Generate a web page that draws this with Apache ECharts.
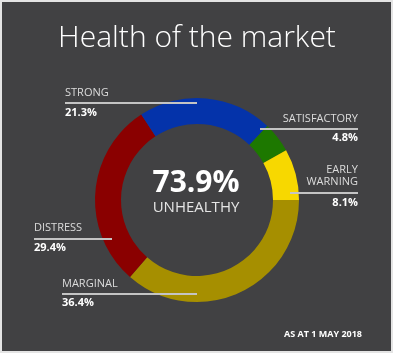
<!DOCTYPE html>
<html>
<head>
<meta charset="utf-8">
<script src="https://cdn.jsdelivr.net/npm/echarts@6/dist/echarts.min.js"></script>
<style>
html,body{margin:0;padding:0;background:#ffffff;}
#main{width:393px;height:353px;}
</style>
</head>
<body>
<div id="main"></div>
<script>
const titleText = 'Health of the market';
const categories = ['MARGINAL', 'DISTRESS', 'STRONG', 'SATISFACTORY', 'EARLY WARNING'];
const values = [36.4, 29.4, 21.3, 4.8, 8.1];
const unhealthyShare = 73.9;
const centerCaption = 'UNHEALTHY';
const dateNote = 'AS AT 1 MAY 2018';

const colors = ['#A68F00', '#8A0000', '#0433AA', '#1D7800', '#F7D800'];
const FONT = '"Open Sans", "Noto Sans", sans-serif';

// label layout per category index (layout only)
const labelLayout = [
  {idx: 0, align: 'left',  x: 62,  nameY: [284], lineY: 294, lx1: 62,  lx2: 197, valY: 303},
  {idx: 1, align: 'left',  x: 34,  nameY: [228], lineY: 239, lx1: 34,  lx2: 112, valY: 248},
  {idx: 2, align: 'left',  x: 65,  nameY: [93],  lineY: 103, lx1: 65,  lx2: 197, valY: 113},
  {idx: 3, align: 'right', x: 358, nameY: [119], lineY: 129, lx1: 260, lx2: 358, valY: 138},
  {idx: 4, align: 'right', x: 358, nameY: [170, 182], lineY: 193, lx1: 290, lx2: 358, valY: 203}
];

const graphics = [];
// background panel
graphics.push({type: 'rect', z: 0, shape: {x: 0, y: 0, width: 393, height: 353},
  style: {fill: '#414143', stroke: '#e4e4e4', lineWidth: 4}, silent: true});
// title
graphics.push({type: 'text', z: 100, x: 197, y: 38,
  style: {text: titleText, fill: '#ffffff', font: '300 30px ' + FONT, align: 'center', verticalAlign: 'middle'}});
// center
graphics.push({type: 'text', z: 100, x: 196, y: 183.5,
  style: {text: unhealthyShare.toFixed(1) + '%', fill: '#ffffff', font: 'bold 30px ' + FONT, align: 'center', verticalAlign: 'middle'}});
graphics.push({type: 'text', z: 100, x: 196, y: 207.5,
  style: {text: centerCaption, fill: '#e6e6e6', font: 'normal 15px ' + FONT, align: 'center', verticalAlign: 'middle'}});
// date
graphics.push({type: 'text', z: 100, x: 362, y: 334,
  style: {text: dateNote, fill: '#ffffff', font: 'bold 9px ' + FONT, align: 'right', verticalAlign: 'middle'}});

labelLayout.forEach(function (L) {
  const name = categories[L.idx];
  const parts = name === 'EARLY WARNING' ? ['EARLY', 'WARNING'] : [name];
  parts.forEach(function (p, i) {
    graphics.push({type: 'text', z: 100, x: L.x, y: L.nameY[i],
      style: {text: p, fill: '#dcdcdc', font: 'normal 11px ' + FONT, align: L.align, verticalAlign: 'middle'}});
  });
  graphics.push({type: 'line', z: 100, shape: {x1: L.lx1, y1: L.lineY, x2: L.lx2, y2: L.lineY},
    style: {stroke: '#c4c4c4', lineWidth: 2}});
  graphics.push({type: 'text', z: 100, x: L.x, y: L.valY,
    style: {text: values[L.idx].toFixed(1) + '%', fill: '#ffffff', font: 'bold 11px ' + FONT, align: L.align, verticalAlign: 'middle'}});
});

const chart = echarts.init(document.getElementById('main'), null, {renderer: 'canvas'});
chart.setOption({
  backgroundColor: '#ffffff',
  animation: false,
  graphic: {elements: graphics},
  series: [{
    type: 'pie',
    z: 10,
    center: [197, 200],
    radius: [76, 102],
    startAngle: 0,
    clockwise: true,
    silent: true,
    label: {show: false},
    labelLine: {show: false},
    itemStyle: {borderWidth: 0},
    data: categories.map(function (c, i) {
      return {name: c, value: values[i], itemStyle: {color: colors[i]}};
    })
  }]
});
</script>
</body>
</html>
